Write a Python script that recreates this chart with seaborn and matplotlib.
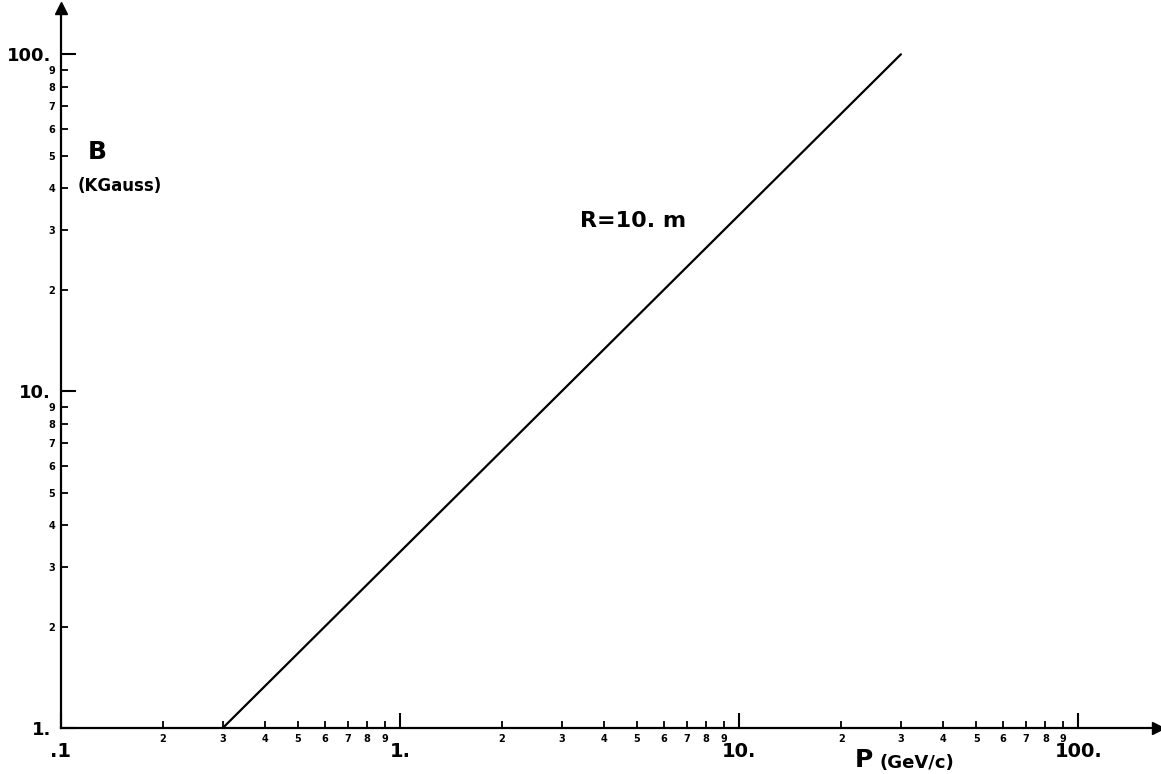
import numpy as np
import pandas as pd
import matplotlib
matplotlib.use("Agg")
import matplotlib.pyplot as plt
import seaborn as sns

# momentum P (GeV/c) vs field B (kGauss) for radius R = 10 m
p_vals = [0.3, 30.0]
b_vals = [1.0, 100.0]

x_major = [0.1, 1, 10, 100]
x_major_labels = [".1", "1.", "10.", "100."]
y_major = [1, 10, 100]
y_major_labels = ["1.", "10.", "100."]
minor_digits = [2, 3, 4, 5, 6, 7, 8, 9]

df = pd.DataFrame({"P": p_vals, "B": b_vals})

sns.set_style("white")
plt.rcParams["font.family"] = ["DejaVu Sans"]
plt.rcParams["font.weight"] = "bold"
plt.rcParams["text.color"] = "black"

fig = plt.figure(figsize=(11.61, 7.74), dpi=100)
ax = fig.add_axes([0.0525, 0.0594, 0.945, 0.930])

sns.lineplot(data=df, x="P", y="B", color="black", lw=1.6, ax=ax)

ax.set_xscale("log")
ax.set_yscale("log")
ax.set_xlim(0.1, 172)
ax.set_ylim(1, 137)

for s in ["top", "right"]:
    ax.spines[s].set_visible(False)
for s in ["left", "bottom"]:
    ax.spines[s].set_linewidth(1.6)
    ax.spines[s].set_color("black")

# arrows at axis ends
ax.plot(1, 0, ">k", ms=8, transform=ax.transAxes, clip_on=False)
ax.plot(0, 1, "^k", ms=8, transform=ax.transAxes, clip_on=False)

x_minor = [d * 10.0 ** e for e in (-1, 0, 1) for d in minor_digits]
y_minor = [d * 10.0 ** e for e in (0, 1) for d in minor_digits]

ax.set_xticks(x_major)
ax.set_xticklabels(x_major_labels, fontsize=14, fontweight="bold")
ax.set_xticks(x_minor, minor=True)
ax.set_xticklabels([str(d) for _ in range(3) for d in minor_digits], minor=True,
                   fontsize=7, fontweight="bold")
ax.set_yticks(y_major)
ax.set_yticklabels(y_major_labels, fontsize=13, fontweight="bold")
ax.set_yticks(y_minor, minor=True)
ax.set_yticklabels([str(d) for _ in range(2) for d in minor_digits], minor=True,
                   fontsize=7, fontweight="bold")

ax.tick_params(axis="both", which="both", bottom=True, left=True,
               labelbottom=True, labelleft=True)
ax.tick_params(axis="both", which="major", direction="in", length=11, width=1.5,
               colors="black", pad=4)
ax.tick_params(axis="both", which="minor", direction="in", length=5, width=1.3,
               colors="black", pad=4)
ax.tick_params(axis="x", which="major", pad=10)
ax.tick_params(axis="y", which="major", pad=7)

ax.set_xlabel("")
ax.set_ylabel("")

# axis captions
fig.text(88 / 1161, 1 - 152 / 774, "B", fontsize=18, fontweight="bold", va="center")
fig.text(78 / 1161, 1 - 186 / 774, "(KGauss)", fontsize=12, fontweight="bold", va="center")
fig.text(855 / 1161, 1 - 767 / 774, "P", fontsize=18, fontweight="bold", va="baseline")
fig.text(879 / 1161, 1 - 768 / 774, "(GeV/c)", fontsize=13, fontweight="bold", va="baseline")
ax.text(3.4, 32, "R=10. m", fontsize=16, fontweight="bold", ha="left", va="center")

fig.savefig("out.png", dpi=100)
